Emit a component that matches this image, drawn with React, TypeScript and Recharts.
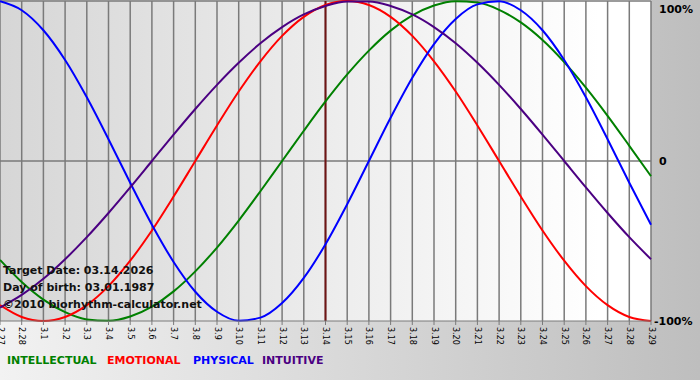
import { LineChart, Line, XAxis, YAxis, CartesianGrid, ReferenceLine } from "recharts";

const days = [
    "2.27", "2.28", "3.1", "3.2", "3.3", "3.4", "3.5", "3.6", "3.7", "3.8", "3.9", "3.10",
    "3.11", "3.12", "3.13", "3.14", "3.15", "3.16", "3.17", "3.18", "3.19", "3.20", "3.21",
    "3.22", "3.23", "3.24", "3.25", "3.26", "3.27", "3.28", "3.29",
];

const intellectual = [
    -61.8, -75.6, -86.6, -94.5, -99.0, -99.9, -97.2, -91.0, -81.5, -69.0, -54.1, -37.2,
    -18.9, 0, 18.9, 37.2, 54.1, 69.0, 81.5, 91.0, 97.2, 99.9, 99.0,
    94.5, 86.6, 75.6, 61.8, 45.8, 28.2, 9.5, -9.5,
];

const emotional = [
    -90.1, -97.5, -100, -97.5, -90.1, -78.2, -62.3, -43.4, -22.2, 0, 22.2, 43.4,
    62.3, 78.2, 90.1, 97.5, 100, 97.5, 90.1, 78.2, 62.3, 43.4, 22.2,
    0, -22.2, -43.4, -62.3, -78.2, -90.1, -97.5, -100,
];

const physical = [
    99.8, 94.2, 81.7, 63.1, 39.8, 13.6, -13.6, -39.8, -63.1, -81.7, -94.2, -99.8,
    -97.9, -88.8, -73.1, -52.0, -27.0, 0, 27.0, 52.0, 73.1, 88.8, 97.9,
    99.8, 94.2, 81.7, 63.1, 39.8, 13.6, -13.6, -39.8,
];

const intuitive = [
    -91.6, -83.7, -73.6, -61.4, -47.6, -32.5, -16.5, 0, 16.5, 32.5, 47.6, 61.4,
    73.6, 83.7, 91.6, 96.9, 99.7, 99.7, 96.9, 91.6, 83.7, 73.6, 61.4,
    47.6, 32.5, 16.5, 0, -16.5, -32.5, -47.6, -61.4,
];

const yTicks = [-100, 0, 100];
const targetDay = "3.14";

const infoLines = ["Target Date: 03.14.2026", "Day of birth: 03.01.1987", "\u00a92010 biorhythm-calculator.net"];

const legendItems = [
    { label: "INTELLECTUAL", color: "#008000", x: 7 },
    { label: "EMOTIONAL", color: "#ff0000", x: 107 },
    { label: "PHYSICAL", color: "#0000ff", x: 193 },
    { label: "INTUITIVE", color: "#4b0082", x: 262 },
];

const data = days.map((d, i) => ({
    d,
    intellectual: intellectual[i],
    emotional: emotional[i],
    physical: physical[i],
    intuitive: intuitive[i],
}));

const FONT = "'DejaVu Sans', Verdana, sans-serif";

const DayTick = ({ x, y, payload }: any) => (
    <text
        x={x}
        y={y}
        transform={`rotate(90 ${x} ${y})`}
        textAnchor="start"
        dominantBaseline="central"
        fontSize={8}
        fontFamily={FONT}
        fill="#000"
    >
        {payload.value}
    </text>
);

const PctTick = ({ x, y, payload }: any) => (
    <text
        x={payload.value < 0 ? x - 5 : x}
        y={y}
        textAnchor="start"
        dominantBaseline="central"
        fontSize={11}
        fontWeight="bold"
        fontFamily={FONT}
        fill="#000"
    >
        {payload.value === 0 ? "0" : `${payload.value}%`}
    </text>
);

export default function App() {
    return (
        <div
            style={{
                position: "absolute",
                left: 0,
                top: 0,
                width: 700,
                height: 380,
                overflow: "hidden",
                background: "linear-gradient(to right, #f2f2f2, #bebebe)",
            }}
        >
            {/* plot background */}
            <div
                style={{
                    position: "absolute",
                    left: 0,
                    top: 0,
                    width: 651,
                    height: 321,
                    background: "linear-gradient(to right, #d6d6d6, #ffffff 92%)",
                }}
            />
            <div style={{ position: "absolute", left: 0, top: 0 }}>
                <LineChart width={700} height={380} data={data} margin={{ top: 1, right: 0, left: 0, bottom: 0 }}>
                    <CartesianGrid horizontal={false} stroke="#7a7a7a" strokeWidth={1.5} />
                    <XAxis
                        dataKey="d"
                        interval={0}
                        height={59}
                        tick={<DayTick />}
                        tickSize={4}
                        tickLine={{ stroke: "#7a7a7a" }}
                        axisLine={{ stroke: "#7a7a7a" }}
                    />
                    <YAxis
                        orientation="right"
                        width={49}
                        domain={[-100, 100]}
                        ticks={yTicks}
                        tick={<PctTick />}
                        tickLine={false}
                        axisLine={false}
                    />
                    <ReferenceLine y={100} stroke="#7a7a7a" strokeWidth={1.5} />
                    <ReferenceLine y={0} stroke="#7a7a7a" strokeWidth={1.5} />
                    <ReferenceLine x={targetDay} stroke="#6e1414" strokeWidth={2} />
                    <Line type="monotone" dataKey="intellectual" stroke="#008000" strokeWidth={2} dot={false} isAnimationActive={false} />
                    <Line type="monotone" dataKey="emotional" stroke="#ff0000" strokeWidth={2} dot={false} isAnimationActive={false} />
                    <Line type="monotone" dataKey="physical" stroke="#0000ff" strokeWidth={2} dot={false} isAnimationActive={false} />
                    <Line type="monotone" dataKey="intuitive" stroke="#4b0082" strokeWidth={2} dot={false} isAnimationActive={false} />
                </LineChart>
            </div>
            {infoLines.map((t, i) => (
                <div
                    key={t}
                    style={{
                        position: "absolute",
                        left: 3,
                        top: 264 + i * 17,
                        fontFamily: FONT,
                        fontSize: 11,
                        fontWeight: "bold",
                        color: "#111",
                        whiteSpace: "nowrap",
                        lineHeight: "14px",
                    }}
                >
                    {t}
                </div>
            ))}
            {legendItems.map((it) => (
                <div
                    key={it.label}
                    style={{
                        position: "absolute",
                        left: it.x,
                        top: 354,
                        fontFamily: FONT,
                        fontSize: 11,
                        fontWeight: "bold",
                        color: it.color,
                        whiteSpace: "nowrap",
                        lineHeight: "14px",
                    }}
                >
                    {it.label}
                </div>
            ))}
        </div>
    );
}
